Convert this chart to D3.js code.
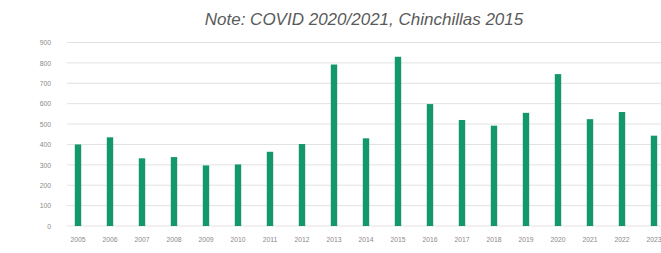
<!DOCTYPE html>
<html>
<head>
<meta charset="utf-8">
<script src="https://cdn.jsdelivr.net/npm/d3@7"></script>
<style>
  body { margin: 0; background: #fff; overflow: hidden; }
  svg text { font-family: "Liberation Sans", Arial, sans-serif; }
</style>
</head>
<body>
<svg width="661" height="253"></svg>
<script>
// chart data
var years = ["2005","2006","2007","2008","2009","2010","2011","2012","2013","2014",
             "2015","2016","2017","2018","2019","2020","2021","2022","2023"];
var counts = [400, 435, 332, 338, 297, 302, 364, 402, 792, 430,
              830, 598, 520, 492, 555, 745, 524, 559, 443];
var yTicks = [0, 100, 200, 300, 400, 500, 600, 700, 800, 900];
var title = "Note: COVID 2020/2021, Chinchillas 2015";

var svg = d3.select("svg");

var x = d3.scaleBand().domain(years).range([62, 670])
    .paddingInner(0.8).paddingOuter(0.4);
var y = d3.scaleLinear().domain([0, 900]).range([226, 42.5]);

// gridlines
svg.append("g").selectAll("line")
    .data(yTicks)
    .enter()
    .append("line")
    .attr("x1", 67).attr("x2", 661)
    .attr("y1", function(d){ return y(d); })
    .attr("y2", function(d){ return y(d); })
    .attr("stroke", "#e2e2e2")
    .attr("stroke-width", 1);

// y axis labels
var yAxis = svg.append("g")
    .attr("transform", "translate(51,0)")
    .call(d3.axisLeft(y).tickValues(yTicks).tickSize(0).tickPadding(0));
yAxis.select(".domain").remove();
yAxis.selectAll("text").attr("fill", "#8a8a8a").style("font-size", "6.8px");

// x axis labels
var xAxis = svg.append("g")
    .attr("transform", "translate(0,237)")
    .call(d3.axisBottom(x).tickSize(0).tickPadding(0));
xAxis.select(".domain").remove();
xAxis.selectAll("text").attr("fill", "#8a8a8a").style("font-size", "6.8px");

// bars
svg.append("g").selectAll("rect")
    .data(counts)
    .enter()
    .append("rect")
    .attr("x", function(d, i){ return x(years[i]); })
    .attr("width", x.bandwidth())
    .attr("y", function(d){ return y(d); })
    .attr("height", function(d){ return y(0) - y(d); })
    .attr("fill", "#15976c");

// title
svg.append("text")
    .attr("x", 364).attr("y", 25)
    .attr("text-anchor", "middle")
    .attr("fill", "#5a5a5a")
    .style("font-size", "17px")
    .style("font-style", "italic")
    .text(title);
</script>
</body>
</html>
